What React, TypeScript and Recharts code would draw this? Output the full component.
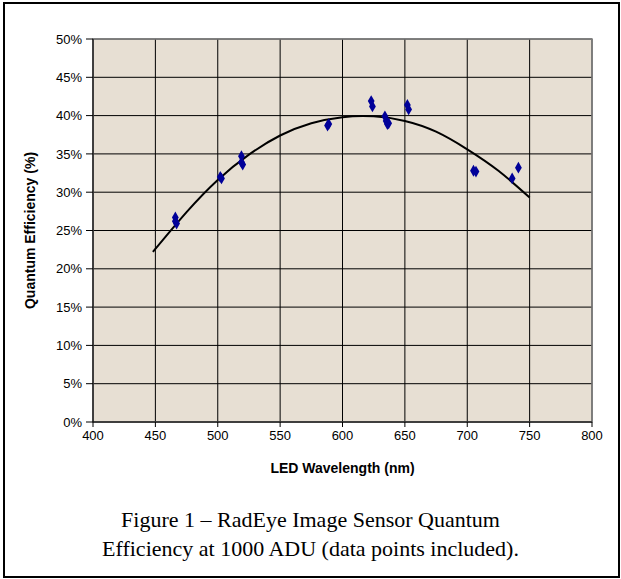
import React from "react";
import { ComposedChart, Line, Scatter, XAxis, YAxis, ZAxis, CartesianGrid, ReferenceArea } from "recharts";

const wavelengths = [466, 466, 467, 502, 503, 519, 519, 520, 589, 588, 623, 624, 634, 635, 636, 637, 652, 653, 705, 707, 736, 741];
const efficiencies = [26.7, 26.2, 25.9, 32.0, 31.8, 34.7, 33.9, 33.6, 38.9, 38.7, 41.9, 41.2, 39.9, 39.3, 38.9, 39.0, 41.4, 40.8, 32.8, 32.7, 31.8, 33.2];

const fitWavelengths = [448, 475, 500, 525, 550, 575, 600, 625, 650, 675, 700, 725, 750];
const fitValues = [22.2, 27.4, 31.6, 34.9, 37.4, 39.0, 39.8, 39.9, 39.3, 37.9, 35.6, 32.8, 29.3];

const xTicks = [400, 450, 500, 550, 600, 650, 700, 750, 800];
const yTicks = [0, 5, 10, 15, 20, 25, 30, 35, 40, 45, 50];

const points = wavelengths.map((w, i) => ({ x: w, y: efficiencies[i] }));
const fit = fitWavelengths.map((w, i) => ({ x: w, y: fitValues[i] }));

const font = "'Liberation Sans', Arial, sans-serif";

export default function App() {
  return (
    <div style={{ position: "fixed", left: 0, top: 0, width: 621, height: 579, background: "#fff", overflow: "hidden" }}>
      <div style={{ position: "absolute", left: 3, top: 2, width: 613, height: 572, border: "2px solid #000" }} />
      <div style={{ position: "absolute", left: 0, top: 0 }}>
        <ComposedChart width={621} height={480} margin={{ top: 39, right: 29, left: 0, bottom: 0 }}>
          <CartesianGrid stroke="#000" strokeWidth={1} fill="#e7dfd3" fillOpacity={1} />
          <ReferenceArea x1={400} x2={800} y1={0} y2={50} fill="none" stroke="#808080" strokeWidth={1.5} />
          <XAxis
            type="number"
            dataKey="x"
            domain={[400, 800]}
            ticks={xTicks}
            allowDataOverflow
            height={58}
            tickSize={5}
            tickMargin={4}
            tick={{ fill: "#000", fontSize: 13, fontFamily: font }}
            stroke="#000"
            label={{ value: "LED Wavelength (nm)", position: "insideBottom", offset: 7, style: { fontFamily: font, fontSize: 14, fontWeight: "bold", fill: "#000" } }}
          />
          <YAxis
            type="number"
            dataKey="y"
            domain={[0, 50]}
            ticks={yTicks}
            width={93}
            tickSize={7}
            tickMargin={4}
            tickFormatter={(v: number) => `${v}%`}
            tick={{ fill: "#000", fontSize: 13, fontFamily: font }}
            stroke="#000"
            label={{ value: "Quantum Efficiency (%)", angle: -90, position: "insideLeft", offset: 30, style: { fontFamily: font, fontSize: 14, fontWeight: "bold", fill: "#000", textAnchor: "middle" } }}
          />
          <ZAxis range={[40, 40]} />
          <Line data={fit} dataKey="y" type="natural" stroke="#000" strokeWidth={2} dot={false} isAnimationActive={false} />
          <Scatter data={points} dataKey="y" fill="#000099" shape="diamond" isAnimationActive={false} />
        </ComposedChart>
      </div>
      <div style={{ position: "absolute", left: 0, top: 505, width: 621, textAlign: "center", fontFamily: "'Liberation Serif', 'Times New Roman', serif", fontSize: 22, lineHeight: "29px", color: "#000" }}>
        Figure 1 – RadEye Image Sensor Quantum
        <br />
        Efficiency at 1000 ADU (data points included).
      </div>
    </div>
  );
}
